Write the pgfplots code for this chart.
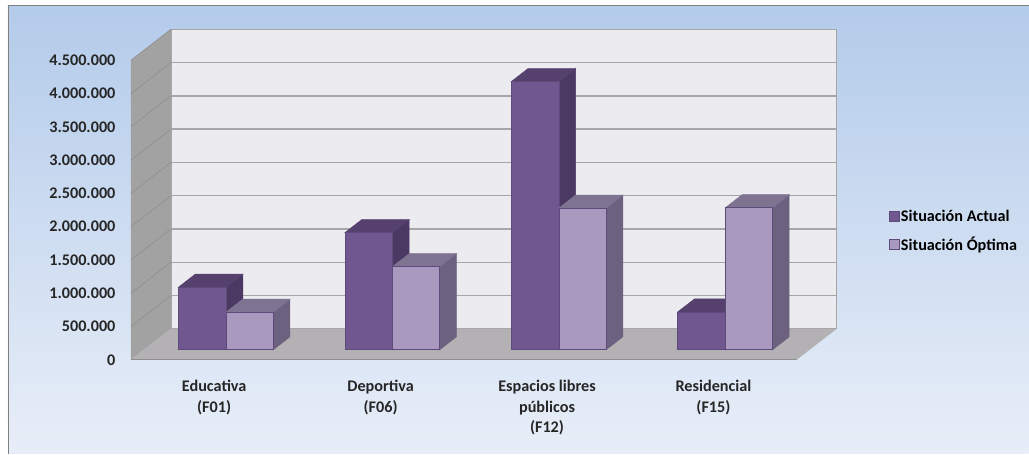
\documentclass[border=0pt]{standalone}
\usepackage{pgfplots}
\pgfplotsset{compat=1.18}
\usepackage{fontspec}
\setmainfont{Carlito}
\definecolor{bgtop}{HTML}{B3CBEA}
\definecolor{bgbot}{HTML}{E8EEF8}
\definecolor{wallb}{HTML}{ECEBF0}
\definecolor{wallL}{HTML}{A2A2A2}
\definecolor{floorc}{HTML}{B3B1B3}
\definecolor{gridc}{HTML}{A6A6A8}
\definecolor{gridL}{HTML}{8E8E8E}
\definecolor{frontA}{HTML}{71578F}
\definecolor{topA}{HTML}{55406E}
\definecolor{sideA}{HTML}{4C3963}
\definecolor{edgeA}{HTML}{5F4A7C}
\definecolor{frontB}{HTML}{A999BF}
\definecolor{topB}{HTML}{7F7392}
\definecolor{sideB}{HTML}{6C6280}
\newcommand{\lab}{\bfseries\fontsize{16.2}{20.3}\selectfont}
% one box: x0, x1 (category units), value in thousands, front, top, side colours
\newcommand{\barbox}[6]{%
  \addplot3[forget plot,fill=#6,draw=#6,line width=0.5pt] coordinates {(#2,10,0)(#2,23,0)(#2,23,#3)(#2,10,#3)} -- cycle;
  \addplot3[forget plot,fill=#5,draw=#5,line width=0.5pt] coordinates {(#1,10,#3)(#2,10,#3)(#2,23,#3)(#1,23,#3)} -- cycle;
  \addplot3[forget plot,fill=#4,draw=edgeA,line width=0.7pt] coordinates {(#1,10,0)(#2,10,0)(#2,10,#3)(#1,10,#3)} -- cycle;
}
\begin{document}
\begin{tikzpicture}[x=1pt,y=1pt]
\path (0,0) rectangle (1029,454);
\shade[top color=bgtop,bottom color=bgbot,draw=none] (8,0) rectangle (1029,448.5);
\draw[color=gray,line width=0.9pt] (8,0) -- (8,448.5) -- (1029,448.5);
\begin{axis}[
  at={(131pt,94pt)},anchor=origin,
  x={(166.5pt,0pt)},y={(1.29pt,1pt)},
  z={(0pt,0.0666pt)},
  xmin=0,xmax=4,ymin=0,ymax=31,zmin=0,zmax=4500,
  clip=false,
  axis line style={draw=none},
  major tick style={draw=none},minor tick style={draw=none},
  xtick={0.5,1.5,2.5,3.5},
  xticklabels={{Educativa\\(F01)},{Deportiva\\(F06)},{Espacios libres\\públicos\\(F12)},{Residencial\\(F15)}},
  ytick=\empty,
  ztick={0,500,1000,1500,2000,2500,3000,3500,4000,4500},
  zticklabels={0,500.000,1.000.000,1.500.000,2.000.000,2.500.000,3.000.000,3.500.000,4.000.000,4.500.000},
  tick label style={font=\lab,text=black!85},
  xticklabel style={align=center,anchor=north,yshift=-17pt},
  zticklabel style={anchor=east,xshift=-12pt},
  legend cell align=left,
  legend style={at={(1.166,0.39)},anchor=center,draw=none,fill=none,font=\lab,row sep=10pt},
  legend image code/.code={\draw[#1] (0pt,-5pt) rectangle (10pt,5pt);},
]
% walls and floor
\addplot3[forget plot,fill=wallb,draw=gridc,line width=0.8pt] coordinates {(0,31,0)(4,31,0)(4,31,4500)(0,31,4500)} -- cycle;
\addplot3[forget plot,fill=wallL,draw=none] coordinates {(0,0,0)(0,31,0)(0,31,4500)(0,0,4500)} -- cycle;
\addplot3[forget plot,fill=floorc,draw=none] coordinates {(0,0,0)(4,0,0)(4,31,0)(0,31,0)} -- cycle;
\pgfplotsinvokeforeach{500,1000,1500,2000,2500,3000,3500,4000,4500}{
  \addplot3[forget plot,draw=gridc,line width=1.5pt] coordinates {(0,31,#1)(4,31,#1)};
  \addplot3[forget plot,draw=gridL,line width=0.6pt] coordinates {(0,0,#1)(0,31,#1)};
}
\addplot3[forget plot,draw=gridL,line width=1.3pt] coordinates {(0,0,0)(4,0,0)};
% bars
\barbox{0.208}{0.494}{941}{frontA}{topA}{sideA}
\barbox{0.494}{0.777}{566}{frontB}{topB}{sideB}
\barbox{1.208}{1.494}{1760}{frontA}{topA}{sideA}
\barbox{1.494}{1.777}{1250}{frontB}{topB}{sideB}
\barbox{2.208}{2.494}{4030}{frontA}{topA}{sideA}
\barbox{2.494}{2.777}{2130}{frontB}{topB}{sideB}
\barbox{3.208}{3.494}{570}{frontA}{topA}{sideA}
\barbox{3.494}{3.777}{2135}{frontB}{topB}{sideB}
\addlegendimage{fill=frontA,draw=edgeA}
\addlegendentry{Situación Actual}
\addlegendimage{fill=frontB,draw=edgeA}
\addlegendentry{Situación Óptima}
\end{axis}
\end{tikzpicture}
\end{document}
